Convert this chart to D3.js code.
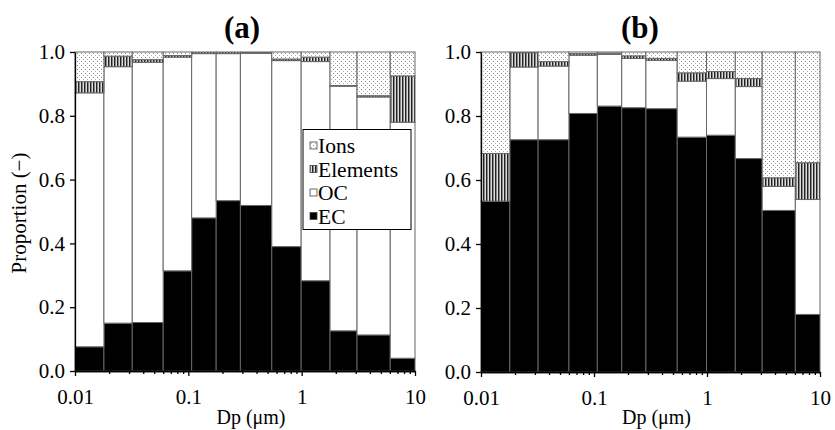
<!DOCTYPE html>
<html><head><meta charset="utf-8">
<script src="https://cdn.jsdelivr.net/npm/d3@7"></script>
<style>
body{margin:0;background:#fff}
svg{display:block;font-family:"Liberation Serif","Times New Roman",serif}
</style>
</head><body>
<svg id="c" width="835" height="430"></svg>
<script>
// Bin edges (µm) shared by both panels
const edges = [0.01, 0.018, 0.032, 0.06, 0.107, 0.176, 0.288, 0.545, 0.99, 1.78, 3.08, 6.05, 10];
const components = ["EC", "OC", "Elements", "Ions"];

// Panel (a) proportions
const ecA   = [0.076, 0.150, 0.152, 0.314, 0.480, 0.534, 0.519, 0.390, 0.283, 0.126, 0.113, 0.040];
const ocA   = [0.796, 0.804, 0.816, 0.670, 0.515, 0.461, 0.477, 0.583, 0.687, 0.767, 0.746, 0.740];
const elA   = [0.035, 0.033, 0.008, 0.005, 0.005, 0.005, 0.002, 0.005, 0.014, 0.002, 0.004, 0.145];
const ionsA = [0.093, 0.013, 0.024, 0.011, 0.000, 0.000, 0.002, 0.022, 0.016, 0.105, 0.137, 0.075];

// Panel (b) proportions
const ecB   = [0.534, 0.726, 0.726, 0.808, 0.831, 0.826, 0.823, 0.734, 0.740, 0.667, 0.505, 0.180];
const ocB   = [0.000, 0.227, 0.230, 0.182, 0.162, 0.154, 0.151, 0.175, 0.177, 0.225, 0.075, 0.359];
const elB   = [0.149, 0.045, 0.014, 0.005, 0.003, 0.008, 0.006, 0.026, 0.022, 0.025, 0.027, 0.115];
const ionsB = [0.317, 0.002, 0.030, 0.005, 0.004, 0.012, 0.020, 0.065, 0.061, 0.083, 0.393, 0.346];

const xTicks = [0.01, 0.1, 1, 10];
const yTicks = [0, 0.2, 0.4, 0.6, 0.8, 1.0];
const legendLabels = ["Ions", "Elements", "OC", "EC"];
const titles = ["(a)", "(b)"];
const xLabel = "Dp (μm)";
const yLabel = "Proportion (−)";

const svg = d3.select("#c");
const defs = svg.append("defs");

// Ions: dotted pattern
const pIons = defs.append("pattern").attr("id", "ions").attr("patternUnits", "userSpaceOnUse")
  .attr("width", 4).attr("height", 4);
pIons.append("rect").attr("width", 4).attr("height", 4).attr("fill", "#fff");
pIons.append("rect").attr("x", 1).attr("y", 1).attr("width", 1).attr("height", 1).attr("fill", "#888");
pIons.append("rect").attr("x", 3).attr("y", 3).attr("width", 1).attr("height", 1).attr("fill", "#aaa");

// Elements: vertical stripes
const pEl = defs.append("pattern").attr("id", "elem").attr("patternUnits", "userSpaceOnUse")
  .attr("width", 3).attr("height", 3);
pEl.append("rect").attr("width", 3).attr("height", 3).attr("fill", "#ddd");
pEl.append("rect").attr("x", 0).attr("width", 1).attr("height", 3).attr("fill", "#222");
pEl.append("rect").attr("x", 1).attr("width", 1).attr("height", 3).attr("fill", "#888");

const fills = {EC: "#000", OC: "#fff", Elements: "url(#elem)", Ions: "url(#ions)"};

function minorTicks() {
  const t = [];
  for (let e = -2; e <= 0; e++) for (let k = 2; k <= 9; k++) t.push(k * Math.pow(10, e));
  return t;
}

function panel(p) {
  const x = d3.scaleLog().domain([0.01, 10]).range([p.x0, p.x1]);
  const y = d3.scaleLinear().domain([0, 1]).range([p.y0, p.y1]);
  const g = svg.append("g");

  const table = edges.slice(0, -1).map((lo, i) => ({
    lo, hi: edges[i + 1], EC: p.ec[i], OC: p.oc[i], Elements: p.el[i], Ions: p.ions[i]
  }));
  const stacked = d3.stack().keys(components)(table);

  stacked.forEach(layer => {
    g.append("g").selectAll("rect").data(layer.filter(d => d[1] - d[0] > 0.0005)).join("rect")
      .attr("x", d => x(d.data.lo))
      .attr("width", d => x(d.data.hi) - x(d.data.lo))
      .attr("y", d => y(d[1]))
      .attr("height", d => y(d[0]) - y(d[1]))
      .attr("fill", fills[layer.key])
      .attr("stroke", "#666")
      .attr("stroke-width", 1);
  });

  // y axis
  const ya = g.append("g").attr("transform", `translate(${p.x0},0)`)
    .call(d3.axisLeft(y).tickValues(yTicks).tickFormat(d3.format(".1f")).tickSize(5).tickSizeOuter(0).tickPadding(5));
  ya.selectAll("text").attr("font-size", 21).attr("fill", "#000").attr("font-family", "Liberation Serif");
  // x axis major
  const xa = g.append("g").attr("transform", `translate(0,${p.y0})`)
    .call(d3.axisBottom(x).tickValues(xTicks).tickFormat(d => String(d)).tickSize(5).tickSizeOuter(0).tickPadding(13));
  xa.selectAll("text").attr("font-size", 21).attr("fill", "#000").attr("font-family", "Liberation Serif");
  // x axis minor
  g.append("g").attr("transform", `translate(0,${p.y0})`)
    .call(d3.axisBottom(x).tickValues(minorTicks()).tickFormat("").tickSize(3).tickSizeOuter(0));
  g.selectAll(".domain, .tick line").attr("stroke", "#000").attr("stroke-width", 1.3);

  g.append("text").attr("x", (p.x0 + p.x1) / 2 + 6).attr("y", 424).attr("text-anchor", "middle")
    .attr("font-size", 20).text(xLabel);
  g.append("text").attr("x", p.titleX).attr("y", 38).attr("text-anchor", "middle")
    .attr("font-size", 31).attr("font-weight", "bold").text(p.title);

  if (p.legend) {
    const lg = g.append("g");
    lg.append("rect").attr("x", 303).attr("y", 129.5).attr("width", 108).attr("height", 100)
      .attr("fill", "#fff").attr("stroke", "#000").attr("stroke-width", 1);
    const keysInLegend = ["Ions", "Elements", "OC", "EC"];
    keysInLegend.forEach((k, i) => {
      const by = 153 + i * 23.5;
      lg.append("rect").attr("x", 310).attr("y", by - 11).attr("width", 7).attr("height", 7)
        .attr("fill", fills[k]).attr("stroke", "#444").attr("stroke-width", 0.8);
      lg.append("text").attr("x", 318).attr("y", by).attr("font-size", 21.5).text(legendLabels[i]);
    });
  }
}

panel({x0: 75, x1: 415, y0: 371, y1: 52, ec: ecA, oc: ocA, el: elA, ions: ionsA, title: titles[0], titleX: 242, legend: true});
panel({x0: 481, x1: 820, y0: 372, y1: 52, ec: ecB, oc: ocB, el: elB, ions: ionsB, title: titles[1], titleX: 640, legend: false});

svg.append("text").attr("transform", "translate(26,213) rotate(-90)").attr("text-anchor", "middle")
  .attr("font-size", 21).text(yLabel);
</script>
</body></html>
